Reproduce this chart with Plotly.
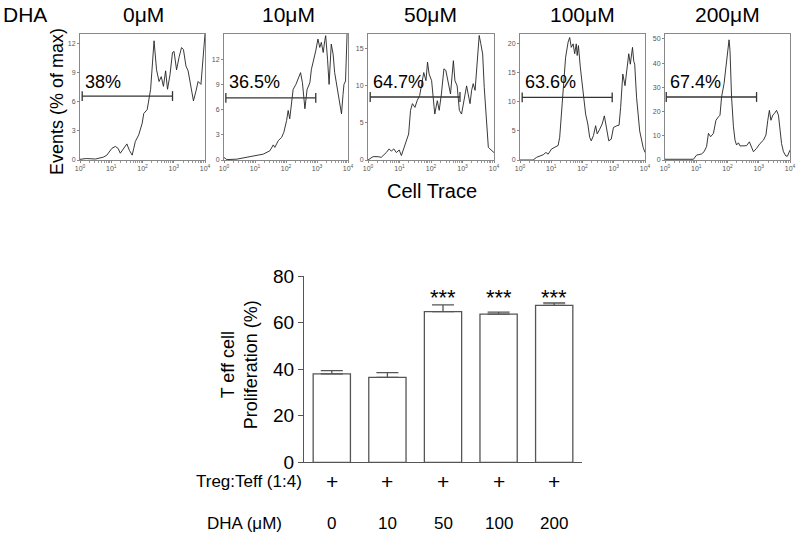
import plotly.graph_objects as go

# ---------------- data ----------------
conc_labels = ["0μM", "10μM", "50μM", "100μM", "200μM"]
gate_pct = ["38%", "36.5%", "64.7%", "63.6%", "67.4%"]
gate_level = [6.6, 7.4, 8.5, 10.8, 26.0]
gate_start_dec = [0.07, 0.06, 0.07, 0.07, 0.04]
gate_end_dec = [2.96, 2.96, 2.92, 2.95, 2.93]
hist_ymax = [13, 15, 17, 21.7, 52]
hist_yticks = [[0, 3, 6, 9, 12], [0, 3, 6, 9, 12], [0, 5, 10, 15], [0, 5, 10, 15, 20], [0, 10, 20, 30, 40, 50]]

# log10(Cell Trace intensity) and events (% of max)
h1_dec = [0, 0.2, 0.5, 0.75, 0.86, 0.95, 1.02, 1.13, 1.22, 1.29, 1.4, 1.5, 1.58, 1.67, 1.72, 1.77, 1.88, 1.99,
          2.04, 2.1, 2.15, 2.26, 2.31, 2.37, 2.45, 2.53, 2.6, 2.67, 2.74, 2.8, 2.88, 2.96, 3.01, 3.09, 3.17, 3.25,
          3.31, 3.39, 3.46, 3.55, 3.63, 3.71, 3.78, 3.87, 3.92, 3.98, 4.0]
h1_val = [0.07, 0.15, 0.1, 0.3, 0.5, 0.9, 1.2, 1.4, 1.2, 0.7, 1.2, 1.66, 1.0, 0.5, 1.2, 1.9, 2.6, 3.8,
          4.8, 5.0, 5.2, 7.3, 9.7, 12.3, 9.3, 8.1, 8.6, 7.6, 9.2, 7.3, 8.8, 11.1, 11.2, 9.3, 10.6, 11.6,
          11.4, 9.7, 9.2, 7.6, 6.1, 7.1, 8.1, 7.8, 9.7, 12.5, 13.0]

h2_dec = [0, 0.09, 0.41, 0.73, 0.94, 1.27, 1.48, 1.59, 1.64, 1.75, 1.86, 1.93, 2.02, 2.07, 2.12, 2.18, 2.23, 2.32,
          2.39, 2.47, 2.53, 2.61, 2.68, 2.77, 2.82, 2.9, 2.96, 3.03, 3.09, 3.14, 3.2, 3.25, 3.28, 3.34, 3.39, 3.46,
          3.52, 3.57, 3.65, 3.73, 3.79, 3.84, 3.87, 3.92, 3.97]
h2_val = [0.3, 0.05, 0.1, 0.3, 0.5, 0.7, 1.1, 1.8, 1.5, 2.3, 2.7, 3.3, 4.7, 5.9, 4.9, 7.0, 8.4, 9.0,
          9.6, 10.4, 9.2, 6.1, 8.4, 9.2, 10.8, 12.0, 13.0, 14.4, 13.4, 14.0, 12.8, 14.2, 14.8, 12.0, 9.0, 13.8,
          12.6, 10.4, 8.4, 6.7, 5.5, 7.8, 9.0, 9.4, 15.0]

h3_dec = [0, 0.16, 0.32, 0.42, 0.58, 0.67, 0.74, 0.82, 0.9, 0.99, 1.06, 1.14, 1.22, 1.29, 1.35, 1.41, 1.49, 1.56,
          1.64, 1.7, 1.77, 1.84, 1.89, 1.94, 2.02, 2.07, 2.12, 2.2, 2.26, 2.33, 2.41, 2.47, 2.55, 2.62, 2.71, 2.76,
          2.83, 2.9, 2.97, 3.05, 3.13, 3.18, 3.24, 3.29, 3.34, 3.4, 3.45, 3.5, 3.53, 3.58, 3.64, 3.69, 3.77, 3.82,
          3.87, 3.93, 4.0]
h3_val = [0, 0.45, 0.45, 0.36, 1.0, 1.5, 1.2, 1.5, 1.0, 1.35, 0.6, 1.7, 2.6, 3.5, 6.7, 7.6, 7.1, 8.0,
          8.7, 10.3, 11.8, 10.7, 13.2, 11.6, 10.7, 8.4, 6.2, 8.0, 6.7, 8.9, 12.3, 12.1, 10.3, 8.9, 13.4, 10.7,
          10.0, 6.7, 6.2, 8.0, 10.0, 8.9, 7.6, 9.4, 10.3, 9.4, 12.5, 14.8, 16.8, 15.7, 14.3, 9.8, 5.3, 1.7,
          1.5, 1.3, 1.0]

h4_dec = [0, 0.42, 0.53, 0.64, 0.74, 0.83, 0.9, 1.01, 1.11, 1.22, 1.27, 1.33, 1.4, 1.46, 1.54, 1.59, 1.64, 1.7,
          1.75, 1.8, 1.83, 1.87, 1.93, 2.01, 2.1, 2.17, 2.23, 2.28, 2.35, 2.42, 2.47, 2.55, 2.63, 2.7, 2.78, 2.84,
          2.92, 2.99, 3.1, 3.17, 3.22, 3.29, 3.36, 3.42, 3.48, 3.53, 3.6, 3.64, 3.67, 3.73, 3.83, 3.94, 4.0]
h4_val = [0, 0, 0.46, 0.7, 0.9, 1.3, 1.0, 1.9, 2.2, 2.5, 3.9, 8.5, 13.1, 17.7, 20.3, 21.1, 19.4, 20.0,
          18.3, 20.0, 18.0, 19.7, 16.0, 12.2, 7.9, 6.2, 3.9, 3.3, 4.2, 5.9, 4.5, 5.3, 6.2, 7.6, 5.3, 3.3,
          3.6, 5.6, 5.9, 6.0, 9.0, 14.8, 12.8, 16.0, 18.3, 16.5, 19.4, 17.0, 16.5, 10.8, 5.0, 2.2, 1.3]

h5_dec = [0, 0.91, 1.01, 1.17, 1.25, 1.33, 1.39, 1.46, 1.55, 1.63, 1.71, 1.76, 1.81, 1.89, 1.95, 2.01, 2.05, 2.08,
          2.13, 2.19, 2.24, 2.29, 2.35, 2.4, 2.51, 2.61, 2.7, 2.77, 2.83, 2.93, 3.04, 3.15, 3.23, 3.29, 3.34, 3.39,
          3.45, 3.5, 3.57, 3.63, 3.68, 3.73, 3.79, 3.87, 3.92, 3.97, 4.0]
h5_val = [0.3, 0.3, 2.0, 2.5, 3.4, 5.5, 11.0, 9.6, 11.0, 16.4, 17.8, 18.5, 26.0, 31.5, 38.4, 45.2, 49.6, 45.2,
          26.0, 13.7, 8.2, 6.2, 7.1, 5.8, 5.8, 5.9, 7.5, 5.5, 3.4, 4.8, 6.8, 8.2, 10.3, 16.4, 20.5, 16.4,
          18.5, 19.2, 20.5, 18.5, 12.3, 6.8, 3.4, 1.6, 1.6, 3.4, 4.1]

hist_dec = [h1_dec, h2_dec, h3_dec, h4_dec, h5_dec]
hist_val = [h1_val, h2_val, h3_val, h4_val, h5_val]

# bar chart
bar_groups = ["0", "10", "50", "100", "200"]
proliferation = [38.0, 36.5, 64.7, 63.6, 67.4]
proliferation_sem = [1.4, 2.0, 2.9, 0.9, 1.0]
significance = ["", "", "***", "***", "***"]
treg_teff = ["+", "+", "+", "+", "+"]

# ---------------- layout helpers ----------------
W, H = 800, 536
FONT = "Liberation Sans, Arial, sans-serif"

def px_x(p):
    return p / W

def px_y(p):
    return 1 - p / H

panel_x = [(80, 205), (224, 348), (368, 494), (520, 645), (665, 790)]
panel_y = (34, 160)
conc_center = [143, 288, 430, 582, 727]

fig = go.Figure()
layout = dict(
    template="none", autosize=False,
    width=W, height=H, margin=dict(l=0, r=0, t=0, b=0, pad=0, autoexpand=False),
    paper_bgcolor="white", plot_bgcolor="white", showlegend=False,
    font=dict(family=FONT, color="black"),
)
annotations = []
tickvals = [1, 10, 100, 1000, 10000]
ticktext = ["10<sup>0</sup>", "10<sup>1</sup>", "10<sup>2</sup>", "10<sup>3</sup>", "10<sup>4</sup>"]

for i in range(5):
    n = i + 1
    xa = "x" if n == 1 else f"x{n}"
    ya = "y" if n == 1 else f"y{n}"
    fig.add_trace(go.Scatter(
        x=[10 ** d for d in hist_dec[i]], y=hist_val[i], mode="lines",
        line=dict(color="#222", width=0.9), xaxis=xa, yaxis=ya, hoverinfo="skip", cliponaxis=True))
    fig.add_trace(go.Scatter(
        x=[10 ** gate_start_dec[i], 10 ** gate_end_dec[i]], y=[gate_level[i], gate_level[i]],
        mode="lines+markers", line=dict(color="#333", width=1.3),
        marker=dict(symbol="line-ns-open", size=7, line=dict(color="#333", width=1.3)),
        xaxis=xa, yaxis=ya, hoverinfo="skip", cliponaxis=False))
    x0, x1 = panel_x[i]
    layout["xaxis" if n == 1 else f"xaxis{n}"] = dict(
        domain=[px_x(x0), px_x(x1)], anchor=ya, type="log", range=[0, 4], automargin=False,
        showline=True, linecolor="#888", linewidth=1, mirror=True,
        ticks="outside", ticklen=2, tickcolor="#888", tickvals=tickvals, ticktext=ticktext,
        tickfont=dict(size=7, color="#555"), showgrid=False, zeroline=False,
        minor=dict(ticks="outside", ticklen=1.5, tickcolor="#999", dtick="D1", showgrid=False))
    layout["yaxis" if n == 1 else f"yaxis{n}"] = dict(
        domain=[px_y(panel_y[1]), px_y(panel_y[0])], anchor=xa, range=[0, hist_ymax[i]], automargin=False,
        showline=True, linecolor="#888", linewidth=1, mirror=True,
        ticks="outside", ticklen=2, tickcolor="#888", tickvals=hist_yticks[i],
        tickfont=dict(size=7, color="#555"), showgrid=False, zeroline=False)
    annotations.append(dict(text=gate_pct[i], x=px_x(x0 + 3), y=px_y(82.5), xref="paper", yref="paper",
                            xanchor="left", yanchor="middle", showarrow=False, font=dict(size=18)))
    annotations.append(dict(text=conc_labels[i], x=px_x(conc_center[i]), y=px_y(14), xref="paper", yref="paper",
                            xanchor="center", yanchor="middle", showarrow=False, font=dict(size=21)))

annotations.append(dict(text="DHA", x=px_x(1), y=px_y(14), xref="paper", yref="paper",
                        xanchor="left", yanchor="middle", showarrow=False, font=dict(size=21)))
annotations.append(dict(text="Events (% of max)", x=px_x(57), y=px_y(101), xref="paper", yref="paper",
                        xanchor="center", yanchor="middle", textangle=-90, showarrow=False, font=dict(size=18)))
annotations.append(dict(text="Cell Trace", x=px_x(432), y=px_y(191), xref="paper", yref="paper",
                        xanchor="center", yanchor="middle", showarrow=False, font=dict(size=20)))

# ---------------- bar chart ----------------
fig.add_trace(go.Bar(
    x=list(range(5)), y=proliferation, width=0.67,
    marker=dict(color="white", line=dict(color="#555", width=1.3)),
    error_y=dict(type="data", symmetric=False, array=proliferation_sem, arrayminus=[0] * 5,
                 color="#555", thickness=1.3, width=11),
    xaxis="x6", yaxis="y6", hoverinfo="skip"))

layout["xaxis6"] = dict(domain=[px_x(304), px_x(582)], anchor="y6", range=[-0.5, 4.5], automargin=False,
                        showline=True, linecolor="#555", linewidth=1.3, ticks="", showticklabels=False,
                        showgrid=False, zeroline=False)
layout["yaxis6"] = dict(domain=[px_y(462.3), px_y(276)], anchor="x6", range=[0, 80], automargin=False,
                        showline=True, linecolor="#555", linewidth=1.3, ticks="outside", ticklen=5,
                        tickcolor="#555", tickwidth=1.3, tickvals=[0, 20, 40, 60, 80],
                        tickfont=dict(size=19, color="black"), showgrid=False, zeroline=False)

for i in range(5):
    if significance[i]:
        annotations.append(dict(text=significance[i], x=i, y=px_y(297), xref="x6", yref="paper",
                                xanchor="center", yanchor="middle", showarrow=False, font=dict(size=22)))
    annotations.append(dict(text=treg_teff[i], x=i, y=px_y(481.7), xref="x6", yref="paper",
                            xanchor="center", yanchor="middle", showarrow=False, font=dict(size=21)))
    annotations.append(dict(text=bar_groups[i], x=i, y=px_y(523), xref="x6", yref="paper",
                            xanchor="center", yanchor="middle", showarrow=False, font=dict(size=17)))

annotations.append(dict(text="Treg:Teff (1:4)", x=px_x(304), y=px_y(481.7), xref="paper", yref="paper",
                        xanchor="right", yanchor="middle", showarrow=False, font=dict(size=17)))
annotations.append(dict(text="DHA (μM)", x=px_x(244), y=px_y(523), xref="paper", yref="paper",
                        xanchor="center", yanchor="middle", showarrow=False, font=dict(size=17)))
annotations.append(dict(text="T eff cell<br>Proliferation (%)", x=px_x(239.5), y=px_y(364.7),
                        xref="paper", yref="paper", xanchor="center", yanchor="middle", textangle=-90,
                        showarrow=False, font=dict(size=18)))

layout["annotations"] = annotations
fig.update_layout(**layout)
fig.write_html(
    "out.html",
    config={"displayModeBar": False},
    post_script="document.body.style.margin='0';document.body.style.overflow='hidden';"
                "document.documentElement.style.overflow='hidden';",
)
